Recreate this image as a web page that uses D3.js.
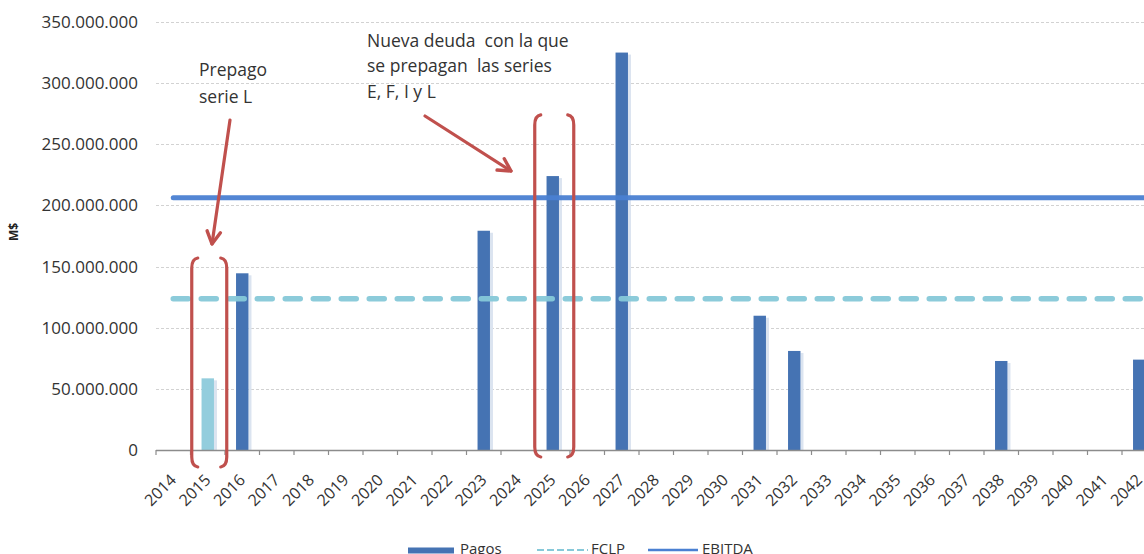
<!DOCTYPE html>
<html>
<head>
<meta charset="utf-8">
<script src="https://cdn.jsdelivr.net/npm/d3@7"></script>
<style>
  html, body { margin: 0; padding: 0; background: #fff; }
  svg { display: block; }
  text { font-family: "Open Sans", sans-serif; }
</style>
</head>
<body>
<svg id="chart" width="1144" height="554"></svg>
<script>
// Categories (years) shown on the x axis
const years = ["2014","2015","2016","2017","2018","2019","2020","2021","2022","2023",
  "2024","2025","2026","2027","2028","2029","2030","2031","2032","2033","2034",
  "2035","2036","2037","2038","2039","2040","2041","2042"];

// Debt payments (M$) by year
const pagoYears  = ["2015", "2016", "2023", "2025", "2027", "2031", "2032", "2038", "2042"];
const pagoValues = [58600000, 144500000, 179300000, 224000000, 325000000, 109800000, 81000000, 72800000, 73900000];
// Year whose payment is the prepaid serie L (drawn in a lighter tone)
const prepagoYear = "2015";

// Reference levels
const fclpValue   = 123700000;
const ebitdaValue = 206300000;

// Y axis ticks
const yTicks = [0, 50000000, 100000000, 150000000, 200000000, 250000000, 300000000, 350000000];

const W = 1144, H = 554;
const svg = d3.select("#chart");

const colors = {
  pagos: "#4573b3",
  prepago: "#93cddd",
  shadow: "#dbe4f0",
  fclp: "#86c9d9",
  ebitda: "#4a80d2",
  red: "#c0504d",
  grid: "#d2d2d2",
  axis: "#8c8c8c",
  text: "#3a3a3a"
};

const x = d3.scaleBand()
  .domain(years)
  .range([156, 1156.5])
  .paddingInner(0.64)
  .paddingOuter(0.32);

const y = d3.scaleLinear()
  .domain([0, 350000000])
  .range([450, 22]);

const loc = d3.formatLocale({ decimal: ",", thousands: ".", grouping: [3], currency: ["", "$"] });
const fmt = loc.format(",");

// Horizontal grid lines
svg.append("g")
  .selectAll("line")
  .data(yTicks.filter(d => d > 0))
  .join("line")
  .attr("x1", x.range()[0]).attr("x2", W)
  .attr("y1", d => Math.round(y(d)) + 0.5).attr("y2", d => Math.round(y(d)) + 0.5)
  .attr("stroke", colors.grid)
  .attr("stroke-width", 1)
  .attr("stroke-dasharray", "3,2");

// Y axis labels (no axis line)
const yAxis = d3.axisLeft(y).tickValues(yTicks).tickFormat(fmt).tickSize(0).tickPadding(0);
const gy = svg.append("g").attr("transform", "translate(138,0)").call(yAxis);
gy.select(".domain").remove();
gy.selectAll("text")
  .attr("font-family", "'Open Sans', sans-serif")
  .attr("font-size", 17)
  .attr("font-weight", 400)
  .attr("fill", "#333");

// Y axis title
svg.append("text")
  .attr("transform", "translate(18,232) rotate(-90)")
  .attr("text-anchor", "middle")
  .attr("font-size", 12)
  .attr("font-weight", 700)
  .attr("fill", "#222")
  .text("M$");

// Bars with a soft shadow on their right side
const pagos = pagoYears.map((yr, i) => ({ year: yr, value: pagoValues[i] }));
const bw = x.bandwidth();

svg.append("g")
  .selectAll("rect")
  .data(pagos)
  .join("rect")
  .attr("x", d => x(d.year) + bw)
  .attr("y", d => y(d.value) + 2)
  .attr("width", 3)
  .attr("height", d => y(0) - y(d.value) - 2)
  .attr("fill", colors.shadow);

svg.append("g")
  .selectAll("rect")
  .data(pagos)
  .join("rect")
  .attr("x", d => x(d.year))
  .attr("y", d => y(d.value))
  .attr("width", bw)
  .attr("height", d => y(0) - y(d.value))
  .attr("fill", d => d.year === prepagoYear ? colors.prepago : colors.pagos);

// X axis line and ticks at category boundaries
const step = x.step();
const x0 = x.range()[0];
svg.append("line")
  .attr("x1", x0).attr("x2", W)
  .attr("y1", y(0) + 0.5).attr("y2", y(0) + 0.5)
  .attr("stroke", colors.axis).attr("stroke-width", 1.3);

svg.append("g")
  .selectAll("line")
  .data(d3.range(years.length + 1))
  .join("line")
  .attr("x1", i => x0 + i * step).attr("x2", i => x0 + i * step)
  .attr("y1", y(0)).attr("y2", y(0) + 5)
  .attr("stroke", colors.axis).attr("stroke-width", 1.2);

// X labels, rotated
svg.append("g")
  .selectAll("text")
  .data(years)
  .join("text")
  .attr("transform", d => `translate(${x(d) + bw / 2 + 4},${y(0) + 31}) rotate(-45)`)
  .attr("text-anchor", "end")
  .attr("font-size", 16)
  .attr("font-weight", 400)
  .attr("fill", "#333")
  .text(d => d);

// Reference lines
const lineStart = x(years[0]) + bw / 2;
svg.append("line")
  .attr("x1", lineStart).attr("x2", W + 20)
  .attr("y1", y(fclpValue)).attr("y2", y(fclpValue))
  .attr("stroke", colors.fclp)
  .attr("stroke-width", 5.5)
  .attr("stroke-linecap", "round")
  .attr("stroke-dasharray", "15,13")
  .attr("opacity", 0.95);

svg.append("line")
  .attr("x1", lineStart).attr("x2", W + 20)
  .attr("y1", y(ebitdaValue)).attr("y2", y(ebitdaValue))
  .attr("stroke", colors.ebitda)
  .attr("stroke-width", 5)
  .attr("stroke-linecap", "round")
  .attr("opacity", 0.95);

// Annotations: brackets
function bracket(g, xPos, yTop, yBot, dir) {
  // dir = 1 for "(" (hooks to the right), -1 for ")" (hooks to the left)
  const h = 6 * dir;
  const p = `M${xPos + h},${yTop} Q${xPos},${yTop + 1} ${xPos},${yTop + 10} L${xPos},${yBot - 10} Q${xPos},${yBot - 1} ${xPos + h},${yBot}`;
  g.append("path").attr("d", p)
    .attr("fill", "none")
    .attr("stroke", colors.red)
    .attr("stroke-width", 3.2)
    .attr("stroke-linecap", "round");
}
const ann = svg.append("g");
const c15 = x("2015") + bw / 2;
const c25 = x("2025") + bw / 2;
bracket(ann, c15 - 16, y(157000000), y(0) + 17, 1);
bracket(ann, c15 + 19, y(157000000), y(0) + 17, -1);
bracket(ann, c25 - 18, y(274000000), y(0) + 7, 1);
bracket(ann, c25 + 21, y(274000000), y(0) + 7, -1);

// Arrows
function arrow(g, xa, ya, xb, yb) {
  g.append("line")
    .attr("x1", xa).attr("y1", ya).attr("x2", xb).attr("y2", yb)
    .attr("stroke", colors.red).attr("stroke-width", 3.2).attr("stroke-linecap", "round");
  const ang = Math.atan2(yb - ya, xb - xa);
  const L = 14, spread = 0.5;
  const p1 = [xb - L * Math.cos(ang - spread), yb - L * Math.sin(ang - spread)];
  const p2 = [xb - L * Math.cos(ang + spread), yb - L * Math.sin(ang + spread)];
  g.append("path")
    .attr("d", `M${p1[0]},${p1[1]} L${xb},${yb} L${p2[0]},${p2[1]}`)
    .attr("fill", "none")
    .attr("stroke", colors.red).attr("stroke-width", 3.4)
    .attr("stroke-linecap", "round").attr("stroke-linejoin", "round");
}
arrow(ann, 230, 120, 212, 244);
arrow(ann, 425, 116, 511, 171);

// Annotation text
const note1 = ["Prepago", "serie L"];
const note2 = ["Nueva deuda  con la que", "se prepagan  las series", "E, F, I y L"];
ann.selectAll(".n1").data(note1).join("text")
  .attr("x", 199).attr("y", (d, i) => 76 + i * 26.5)
  .attr("font-size", 17.5).attr("fill", "#333")
  .style("white-space", "pre")
  .text(d => d);
ann.selectAll(".n2").data(note2).join("text")
  .attr("x", 367).attr("y", (d, i) => 47 + i * 25.3)
  .attr("font-size", 17.5).attr("fill", "#333")
  .style("white-space", "pre")
  .text(d => d);

// Legend
const leg = svg.append("g");
const ly = 550;
leg.append("rect").attr("x", 408).attr("y", ly - 2.5).attr("width", 46).attr("height", 6).attr("fill", colors.pagos);
leg.append("text").attr("x", 460).attr("y", ly + 4).attr("font-size", 15).attr("fill", "#333").text("Pagos");
leg.append("line").attr("x1", 537).attr("x2", 588).attr("y1", ly).attr("y2", ly)
  .attr("stroke", colors.fclp).attr("stroke-width", 2).attr("stroke-dasharray", "7,3");
leg.append("text").attr("x", 591).attr("y", ly + 4).attr("font-size", 15).attr("fill", "#333").text("FCLP");
leg.append("line").attr("x1", 648).attr("x2", 698).attr("y1", ly).attr("y2", ly)
  .attr("stroke", colors.ebitda).attr("stroke-width", 2.5);
leg.append("text").attr("x", 702).attr("y", ly + 4).attr("font-size", 15).attr("fill", "#333").text("EBITDA");
</script>
</body>
</html>
